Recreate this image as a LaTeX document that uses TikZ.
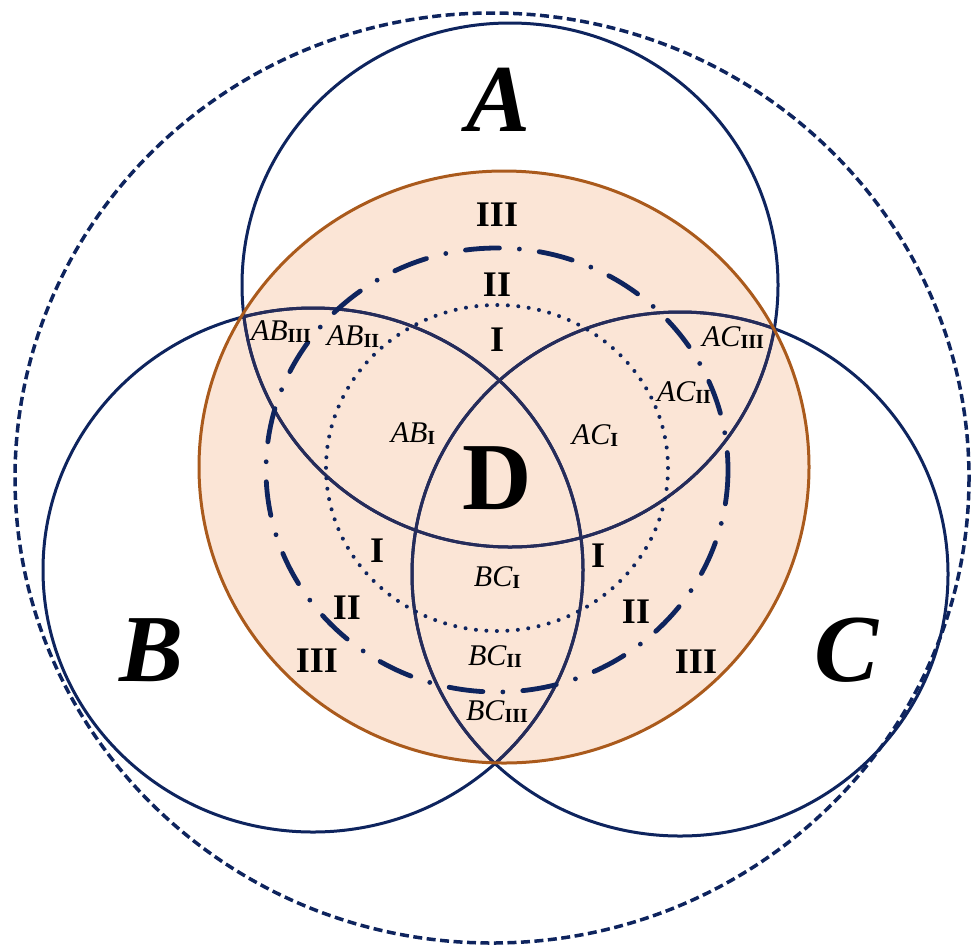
\documentclass[tikz,border=0pt]{standalone}
\usepackage{fontspec}
\setmainfont{Liberation Serif}
\definecolor{navy}{RGB}{14,36,94}
\definecolor{slate}{RGB}{38,44,90}
\definecolor{peach}{RGB}{251,229,214}
\definecolor{brownedge}{RGB}{170,90,28}
\newcommand{\zsub}[2]{#1\raisebox{-2pt}{\fontsize{20}{20}\selectfont\upshape\bfseries #2}}
\begin{document}
\begin{tikzpicture}[x=1pt,y=-1pt,
  setline/.style={draw=navy, line width=3pt},
  innerline/.style={draw=slate, line width=3pt},
  outerring/.style={draw=navy, line width=3.5pt, dash pattern=on 9pt off 4.5pt},
  dashdotring/.style={draw=navy, line width=4.8pt, line cap=round, dash pattern=on 34pt off 20pt on 0pt off 20pt},
  dotring/.style={draw=navy, line width=4pt, line cap=round, dash pattern=on 0pt off 10.5pt},
  orangeedge/.style={draw=brownedge, line width=3pt},
  bigletter/.style={font=\fontsize{96}{96}\selectfont\bfseries\itshape, inner sep=0pt},
  bigD/.style={font=\fontsize{96}{96}\selectfont\bfseries, inner sep=0pt},
  zone/.style={font=\fontsize{36}{36}\selectfont\bfseries, inner sep=0pt},
  pairlab/.style={font=\fontsize{30}{30}\selectfont\itshape, inner sep=0pt}]
\useasboundingbox (0,0) rectangle (971,946);
% orange region
\fill[peach] (504,467) ellipse [x radius=305, y radius=296];
% set circles
\draw[setline] (510,285) ellipse [x radius=268, y radius=262];
\draw[setline] (313,570) ellipse [x radius=270, y radius=262];
\draw[setline] (680,574) ellipse [x radius=268, y radius=262];
\begin{scope}
  \clip (504,467) ellipse [x radius=305, y radius=296];
  \draw[innerline] (510,285) ellipse [x radius=268, y radius=262];
  \draw[innerline] (313,570) ellipse [x radius=270, y radius=262];
  \draw[innerline] (680,574) ellipse [x radius=268, y radius=262];
\end{scope}
\draw[orangeedge] (504,467) ellipse [x radius=305, y radius=296];
% rings
\draw[dashdotring] (497,470) ellipse [x radius=231, y radius=222];
\draw[dotring] (497,468) ellipse [x radius=171, y radius=163];
\draw[outerring] (492,478) ellipse [x radius=477, y radius=465];
% big labels
\node[bigletter] (lA) at (499,100) {A};
\node[bigletter] (lB) at (152,650) {B};
\node[bigletter] (lC) at (847,650) {C};
\node[bigD] (lD) at (497,478) {D};
% zones
\node[zone] (z3t) at (497,215) {III};
\node[zone] (z2t) at (497,285) {II};
\node[zone] (z1t) at (497,340) {I};
\node[zone] (z1l) at (377,551) {I};
\node[zone] (z1r) at (598,556) {I};
\node[zone] (z2l) at (347,608) {II};
\node[zone] (z2r) at (636,612) {II};
\node[zone] (z3l) at (317,661) {III};
\node[zone] (z3r) at (696,662) {III};
% pair labels
\node[pairlab] (ab3) at (281,332) {\zsub{AB}{III}};
\node[pairlab] (ab2) at (353,337) {\zsub{AB}{II}};
\node[pairlab] (ab1) at (413,434) {\zsub{AB}{I}};
\node[pairlab] (ac3) at (733,338) {\zsub{AC}{III}};
\node[pairlab] (ac2) at (684,393) {\zsub{AC}{II}};
\node[pairlab] (ac1) at (595,436) {\zsub{AC}{I}};
\node[pairlab] (bc1) at (497,578) {\zsub{BC}{I}};
\node[pairlab] (bc2) at (495,657) {\zsub{BC}{II}};
\node[pairlab] (bc3) at (497,712) {\zsub{BC}{III}};
\end{tikzpicture}
\end{document}
